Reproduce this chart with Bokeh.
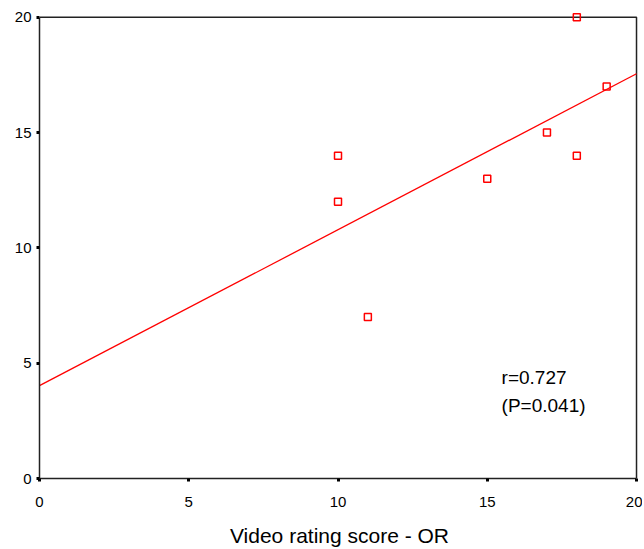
import numpy as np
from bokeh.plotting import figure
from bokeh.models import Range1d, Label, FixedTicker
from bokeh.embed import file_html
from bokeh.resources import INLINE

# data
video_score = [10, 10, 11, 15, 17, 18, 18, 19]
other_score = [14, 12, 7, 13, 15, 14, 20, 17]
ticks = [0, 5, 10, 15, 20]
stat_lines = ["r=0.727", "(P=0.041)"]

slope, intercept = np.polyfit(video_score, other_score, 1)
fit_x = [0, 20]
fit_y = [intercept + slope * v for v in fit_x]

p = figure(width=642, height=549, output_backend="svg", toolbar_location=None,
           x_range=Range1d(0, 20.1), y_range=Range1d(0, 20.25),
           min_border_left=39, min_border_right=3, min_border_top=11, min_border_bottom=40)

p.xgrid.visible = False
p.ygrid.visible = False
p.outline_line_color = None
p.background_fill_color = "white"
p.border_fill_color = "white"

# box top and right edges
p.line([0, 20, 20], [20, 20, 0], line_color="#222222", line_width=1.5)

p.line(fit_x, fit_y, line_color="red", line_width=1.3)
p.scatter(video_score, other_score, marker="square", size=7, fill_color=None,
          line_color="red", line_width=1.5)

for ax in (p.xaxis[0], p.yaxis[0]):
    ax.ticker = FixedTicker(ticks=ticks)
    ax.bounds = (0, 20)
    ax.axis_line_color = "#222222"
    ax.axis_line_width = 1.5
    ax.major_tick_in = 0
    ax.major_tick_out = 3
    ax.major_tick_line_width = 3
    ax.minor_tick_line_color = None
    ax.major_label_text_font = "Liberation Sans"
    ax.major_label_text_font_size = "15px"
    ax.major_label_text_color = "black"

p.xaxis.major_label_standoff = 15
p.yaxis.major_label_standoff = 5
p.xaxis.axis_label = "Video rating score - OR"
p.xaxis.axis_label_text_font = "Liberation Sans"
p.xaxis.axis_label_text_font_size = "21px"
p.xaxis.axis_label_text_font_style = "normal"
p.xaxis.axis_label_text_color = "black"
p.xaxis.axis_label_standoff = 14

p.add_layout(Label(x=15.48, y=4.38, text=stat_lines[0], text_baseline="middle",
                   text_font="Liberation Sans", text_font_size="19px", text_color="black"))
p.add_layout(Label(x=15.48, y=3.17, text=stat_lines[1], text_baseline="middle",
                   text_font="Liberation Sans", text_font_size="19px", text_color="black"))

open("out.html", "w").write(file_html(p, INLINE))
